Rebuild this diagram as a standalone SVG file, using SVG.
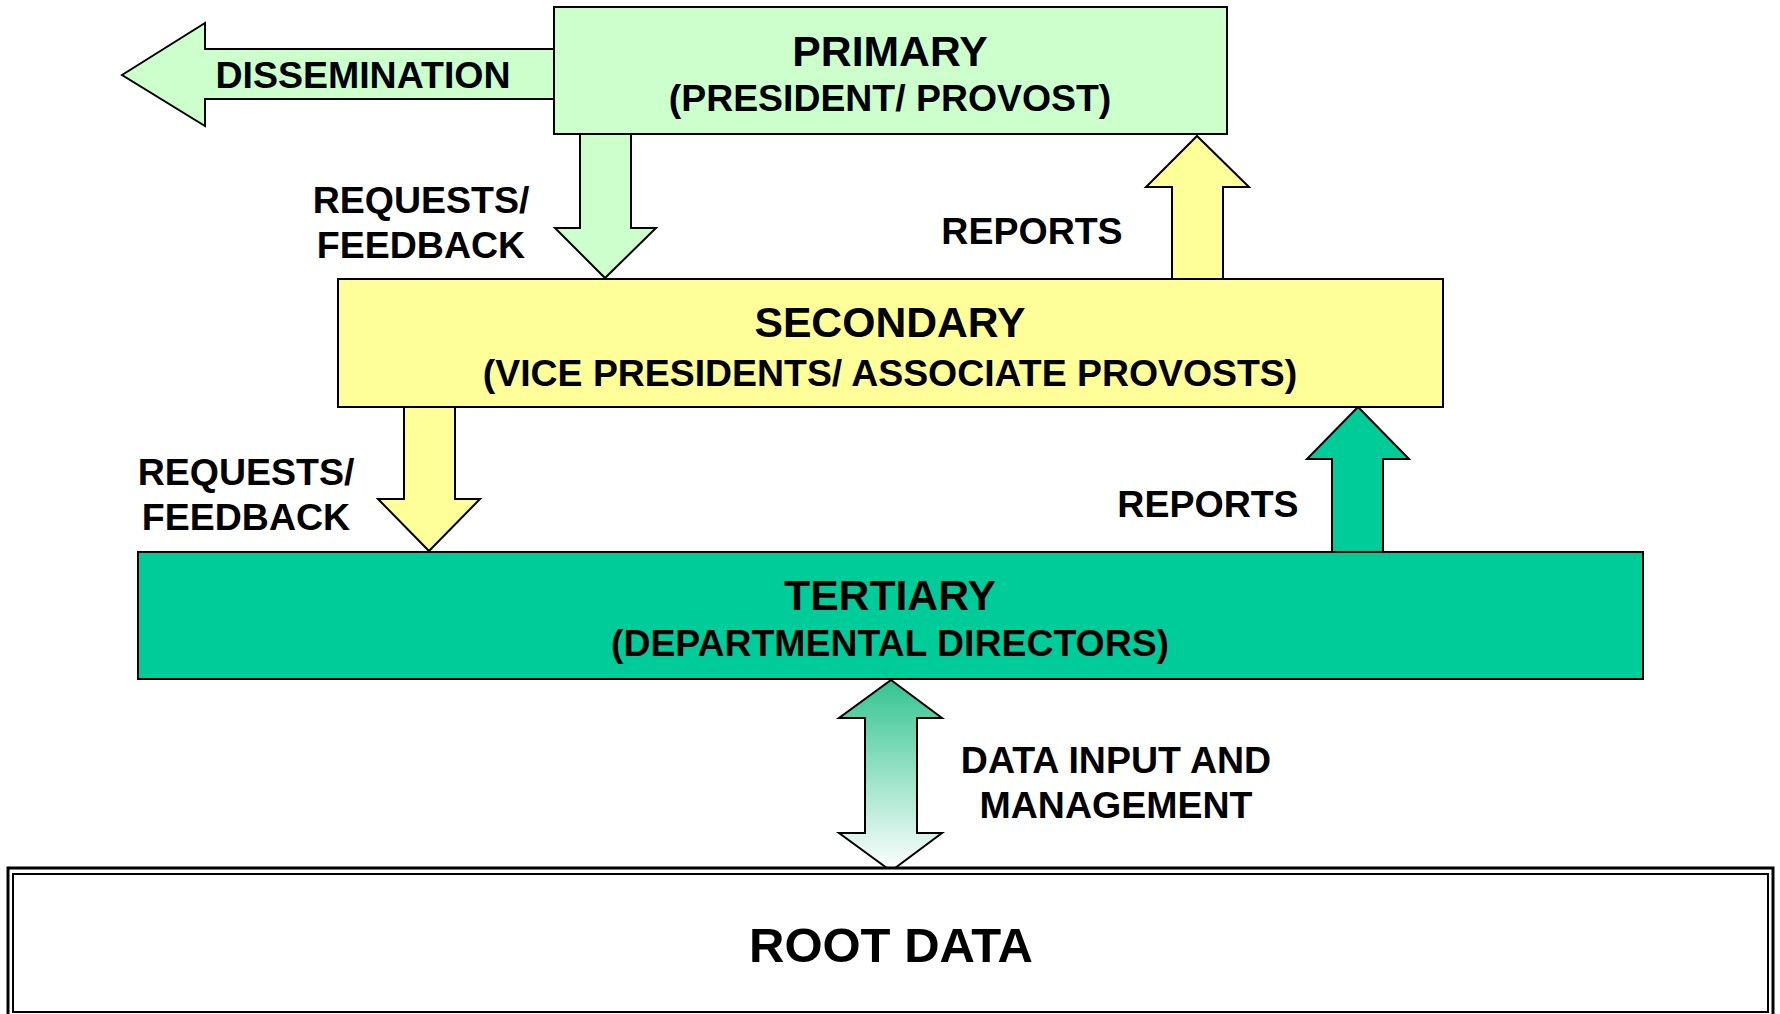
<svg xmlns="http://www.w3.org/2000/svg" width="1780" height="1014" viewBox="0 0 1780 1014">
<style>
text{font-family:"Liberation Sans",Arial,sans-serif;font-weight:bold;fill:#000;text-anchor:middle}
.t{font-size:42.7px}
.s{font-size:37.4px}
.l{font-size:37.5px}
.r{font-size:49px}
.box{stroke:#000;stroke-width:2}
.arr{stroke:#000;stroke-width:2;stroke-linejoin:miter}
</style>
<defs>
<linearGradient id="g" x1="0" y1="0" x2="0" y2="1">
<stop offset="0" stop-color="#33C490"/>
<stop offset="1" stop-color="#FFFFFF"/>
</linearGradient>
</defs>
<g id="connectors">
<polygon class="arr" fill="#CCFFCC" points="122,75 205,23 205,49 556,49 556,99 205,99 205,126"/>
<polygon class="arr" fill="#CCFFCC" points="580,132 631,132 631,228 656,228 605,278 555,228 580,228"/>
<polygon class="arr" fill="#FFFF99" points="1172,281 1172,187 1146,187 1197,136 1249,187 1223,187 1223,281"/>
<polygon class="arr" fill="#FFFF99" points="404,405 455,405 455,499 480,499 429,551 378,499 404,499"/>
<polygon class="arr" fill="#00CC99" points="1332,554 1332,459 1307,459 1358,407 1409,459 1383,459 1383,554"/>
<polygon class="arr" fill="url(#g)" points="891,680 942,718 917,718 917,833 942,833 891,871 839,833 865,833 865,718 839,718"/>
<text class="l" x="363" y="88">DISSEMINATION</text>
<text class="l" x="421" y="213">REQUESTS/</text>
<text class="l" x="421" y="258">FEEDBACK</text>
<text class="l" x="1032" y="244">REPORTS</text>
<text class="l" x="246" y="485">REQUESTS/</text>
<text class="l" x="246" y="530">FEEDBACK</text>
<text class="l" x="1208" y="517">REPORTS</text>
<text class="l" x="1116" y="773">DATA INPUT AND</text>
<text class="l" x="1116" y="818">MANAGEMENT</text>
</g>
<g id="primary">
<rect class="box" fill="#CCFFCC" x="554" y="7" width="673" height="127"/>
<text class="t" x="890" y="66">PRIMARY</text>
<text class="s" x="890" y="111">(PRESIDENT/ PROVOST)</text>
</g>
<g id="secondary">
<rect class="box" fill="#FFFF99" x="338" y="279" width="1105" height="128"/>
<text class="t" x="890" y="337">SECONDARY</text>
<text class="s" x="890" y="386">(VICE PRESIDENTS/ ASSOCIATE PROVOSTS)</text>
</g>
<g id="tertiary">
<rect class="box" fill="#00CC99" x="138" y="552" width="1505" height="127"/>
<text class="t" x="890" y="610">TERTIARY</text>
<text class="s" x="890" y="656">(DEPARTMENTAL DIRECTORS)</text>
</g>
<g id="root">
<rect fill="#FFFFFF" stroke="#000" stroke-width="3" x="8" y="868" width="1765" height="150"/>
<rect fill="none" stroke="#000" stroke-width="2" x="13" y="874" width="1755" height="138"/>
<text class="r" x="891" y="962">ROOT DATA</text>
</g>
</svg>
